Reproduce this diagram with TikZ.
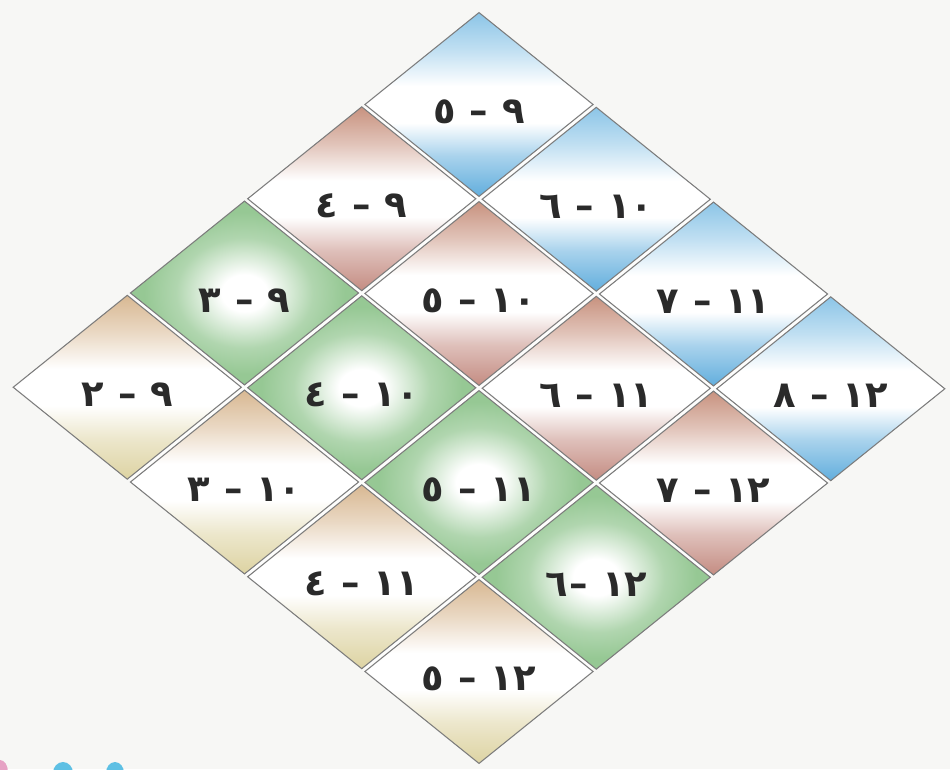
\documentclass[tikz,border=0pt]{standalone}
\usepackage{fontspec}
\newfontfamily\arabicfont[Script=Arabic]{DejaVu Sans}
\TeXXeTstate=1
\usetikzlibrary{shapes.geometric}
\definecolor{bgcol}{HTML}{F7F7F5}
\definecolor{gapcol}{HTML}{FDFDFC}
\definecolor{edgecol}{HTML}{7C7C7C}
\definecolor{txtcol}{HTML}{2A2A2A}
\definecolor{blueA}{HTML}{8CC5E7}
\definecolor{blueB}{HTML}{62AEDD}
\definecolor{pinkA}{HTML}{C8927F}
\definecolor{pinkB}{HTML}{C48C82}
\definecolor{greenA}{HTML}{96C894}
\definecolor{tanA}{HTML}{D8B892}
\definecolor{tanB}{HTML}{DDD3A2}
\definecolor{blobcyan}{HTML}{5EC0E4}
\definecolor{blobpink}{HTML}{E6A2C4}
\pgfdeclareverticalshading{blueshade}{100bp}{color(0bp)=(blueB); color(25bp)=(blueB); color(36bp)=(blueB!55!white); color(45bp)=(white); color(55bp)=(white); color(65bp)=(blueA!55!white); color(75bp)=(blueA); color(100bp)=(blueA)}
\pgfdeclareverticalshading{pinkshade}{100bp}{color(0bp)=(pinkB); color(25bp)=(pinkB); color(36bp)=(pinkB!55!white); color(45bp)=(white); color(55bp)=(white); color(65bp)=(pinkA!55!white); color(75bp)=(pinkA); color(100bp)=(pinkA)}
\pgfdeclareverticalshading{tanshade}{100bp}{color(0bp)=(tanB); color(25bp)=(tanB); color(36bp)=(tanB!55!white); color(45bp)=(white); color(55bp)=(white); color(65bp)=(tanA!55!white); color(75bp)=(tanA); color(100bp)=(tanA)}
\pgfdeclareradialshading{greenshade}{\pgfpoint{0bp}{0bp}}{color(0bp)=(white); color(5bp)=(white); color(15bp)=(greenA!75!white); color(22bp)=(greenA); color(50bp)=(greenA)}
\tikzset{
  tile/.style={diamond, draw=edgecol, line width=0.6pt, shade,
    minimum width=4.572cm, minimum height=3.686cm, inner sep=0pt},
  lbl/.style={inner sep=0pt, text=txtcol,
    font=\arabicfont\bfseries\fontsize{21}{22}\selectfont},
  row0/.style={shading=blueshade},
  row1/.style={shading=pinkshade},
  row2/.style={shading=greenshade},
  row3/.style={shading=tanshade},
  blob/.style={draw=none}
}
\begin{document}
\begin{tikzpicture}[x=0.02cm, y=-0.02cm]
\useasboundingbox (0,0) rectangle (950,769);
\fill[bgcol] (0,0) rectangle (950,769);
\begin{scope}
  \clip (0,0) rectangle (950,769);
  \fill[blobcyan, blob] (63,773) ellipse [x radius=10, y radius=11];
  \fill[blobcyan, blob] (115,773) ellipse [x radius=9, y radius=11];
  \fill[blobpink, blob] (0,772) ellipse [x radius=8, y radius=12];
\end{scope}
\fill[gapcol] (479,15) -- (943,389) -- (478,761) -- (15,387) -- cycle;
\foreach \i/\j/\bg/\sm/\gl in {
  0/0/٩/٥/0.38, 0/1/١٠/٦/0.38, 0/2/١١/٧/0.38, 0/3/١٢/٨/0.38,
  1/0/٩/٤/0.38, 1/1/١٠/٥/0.38, 1/2/١١/٦/0.38, 1/3/١٢/٧/0.38,
  2/0/٩/٣/0.38, 2/1/١٠/٤/0.38, 2/2/١١/٥/0.38, 2/3/١٢/٦/0.06,
  3/0/٩/٢/0.38, 3/1/١٠/٣/0.38, 3/2/١١/٤/0.38, 3/3/١٢/٥/0.38}{
  \pgfmathsetmacro{\cx}{479+117.25*(\j-\i)}
  \pgfmathsetmacro{\cy}{10+94.75*(\j+0.5)+94.25*(\i+0.5)}
  \node[tile, row\i] (t\i\j) at (\cx,\cy) {};
  \node[lbl] (l\i\j) at ([yshift=-0.15cm]t\i\j.center)
    {\beginR \bg\hspace{0.38em}–\hspace{\gl em}\sm\endR};
}
\end{tikzpicture}
\end{document}
